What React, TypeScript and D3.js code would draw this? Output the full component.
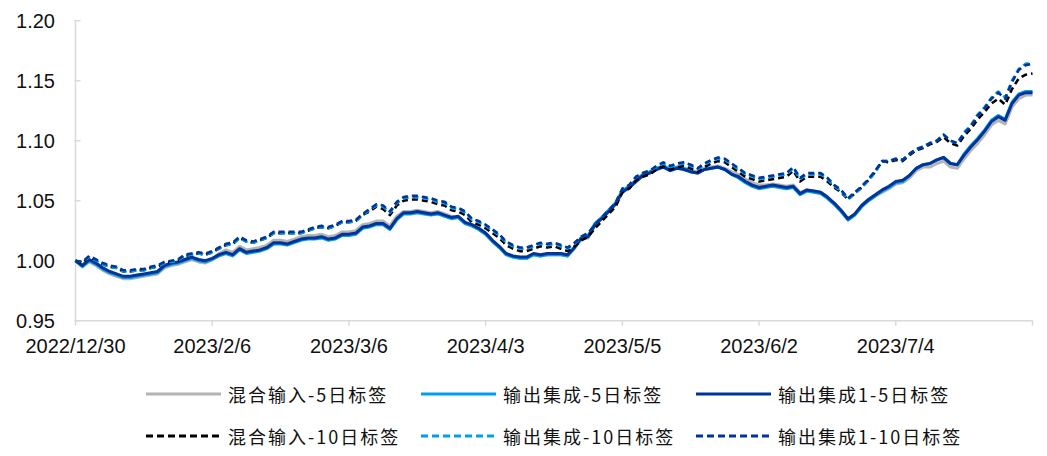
import React from "react";
import * as d3 from "d3";

const dateLabels = ["2022/12/30", "2023/2/6", "2023/3/6", "2023/4/3", "2023/5/5", "2023/6/2", "2023/7/4", ""];
const tickIndex = [0, 20, 40, 60, 80, 100, 120, 140];
const yTicks = [0.95, 1.0, 1.05, 1.1, 1.15, 1.2];

const mix5 = [
  1.000,0.995,0.999,0.996,0.992,0.989,0.987,0.985,0.985,0.986,
  0.987,0.988,0.989,0.994,0.996,0.997,0.999,1.001,0.999,0.998,
  1.001,1.006,1.009,1.007,1.012,1.009,1.010,1.011,1.013,1.017,
  1.017,1.016,1.018,1.020,1.021,1.021,1.022,1.020,1.021,1.024,
  1.024,1.025,1.030,1.031,1.033,1.033,1.029,1.037,1.041,1.041,
  1.042,1.041,1.040,1.041,1.039,1.037,1.036,1.031,1.029,1.026,
  1.022,1.016,1.011,1.005,1.003,1.002,1.002,1.005,1.004,1.005,
  1.005,1.005,1.004,1.010,1.018,1.019,1.030,1.036,1.042,1.048,
  1.058,1.062,1.067,1.072,1.074,1.077,1.079,1.076,1.078,1.077,
  1.075,1.074,1.077,1.078,1.079,1.077,1.074,1.072,1.068,1.065,
  1.063,1.063,1.064,1.063,1.062,1.063,1.057,1.059,1.058,1.057,
  1.053,1.047,1.041,1.034,1.038,1.045,1.050,1.054,1.057,1.060,
  1.064,1.065,1.069,1.075,1.078,1.078,1.081,1.083,1.078,1.077,
  1.085,1.092,1.098,1.105,1.113,1.117,1.114,1.128,1.135,1.138,
  1.138,
];

const out5 = [
  1.000,0.995,1.000,0.997,0.993,0.990,0.988,0.986,0.986,0.987,
  0.988,0.989,0.990,0.995,0.997,0.998,1.000,1.002,1.000,0.999,
  1.001,1.004,1.006,1.004,1.009,1.006,1.007,1.008,1.010,1.014,
  1.014,1.013,1.015,1.017,1.018,1.018,1.019,1.017,1.018,1.021,
  1.021,1.022,1.027,1.028,1.030,1.030,1.026,1.034,1.039,1.039,
  1.040,1.039,1.038,1.039,1.037,1.035,1.036,1.031,1.029,1.026,
  1.022,1.016,1.011,1.005,1.003,1.002,1.002,1.005,1.004,1.005,
  1.005,1.005,1.004,1.011,1.019,1.021,1.031,1.036,1.042,1.048,
  1.058,1.062,1.067,1.072,1.074,1.077,1.079,1.076,1.078,1.077,
  1.075,1.073,1.076,1.077,1.078,1.076,1.072,1.069,1.065,1.062,
  1.060,1.061,1.062,1.061,1.060,1.061,1.055,1.058,1.057,1.056,
  1.052,1.047,1.041,1.034,1.038,1.045,1.050,1.054,1.058,1.061,
  1.065,1.066,1.071,1.077,1.080,1.081,1.084,1.086,1.081,1.080,
  1.089,1.096,1.102,1.109,1.117,1.121,1.118,1.132,1.139,1.141,
  1.141,
];

const out1_5 = [
  1.000,0.996,1.001,0.998,0.994,0.991,0.989,0.987,0.987,0.988,
  0.989,0.990,0.991,0.996,0.998,0.999,1.001,1.003,1.001,1.000,
  1.002,1.005,1.007,1.005,1.010,1.007,1.008,1.009,1.011,1.015,
  1.015,1.014,1.016,1.018,1.019,1.019,1.020,1.018,1.019,1.022,
  1.022,1.023,1.028,1.029,1.031,1.031,1.027,1.035,1.040,1.040,
  1.041,1.040,1.039,1.040,1.038,1.036,1.037,1.032,1.030,1.027,
  1.023,1.017,1.012,1.006,1.004,1.003,1.003,1.006,1.005,1.006,
  1.006,1.006,1.005,1.011,1.019,1.020,1.030,1.035,1.041,1.047,
  1.057,1.061,1.066,1.071,1.073,1.076,1.078,1.075,1.077,1.076,
  1.074,1.073,1.076,1.077,1.078,1.076,1.072,1.070,1.066,1.063,
  1.061,1.062,1.063,1.062,1.061,1.062,1.056,1.059,1.058,1.057,
  1.053,1.048,1.042,1.035,1.039,1.046,1.051,1.055,1.059,1.062,
  1.066,1.067,1.071,1.077,1.080,1.081,1.084,1.086,1.081,1.080,
  1.088,1.095,1.101,1.108,1.116,1.120,1.117,1.131,1.138,1.140,
  1.140,
];

const mix10 = [
  1.000,0.998,1.003,1.000,0.997,0.995,0.994,0.991,0.991,0.992,
  0.992,0.994,0.995,0.998,0.999,1.000,1.004,1.005,1.006,1.005,
  1.007,1.010,1.013,1.014,1.019,1.016,1.015,1.017,1.019,1.023,
  1.023,1.023,1.023,1.023,1.025,1.027,1.028,1.027,1.029,1.032,
  1.032,1.033,1.038,1.041,1.045,1.043,1.038,1.046,1.050,1.051,
  1.051,1.050,1.049,1.047,1.046,1.042,1.041,1.038,1.032,1.030,
  1.027,1.023,1.019,1.013,1.010,1.008,1.008,1.010,1.012,1.011,
  1.012,1.010,1.008,1.012,1.017,1.020,1.027,1.033,1.039,1.045,
  1.057,1.060,1.067,1.070,1.072,1.076,1.079,1.076,1.078,1.079,
  1.077,1.074,1.078,1.081,1.083,1.082,1.078,1.074,1.070,1.068,
  1.066,1.067,1.068,1.069,1.070,1.075,1.066,1.070,1.070,1.070,
  1.066,1.061,1.057,1.051,1.056,1.061,1.067,1.074,1.083,1.082,
  1.084,1.083,1.088,1.092,1.094,1.097,1.099,1.103,1.098,1.096,
  1.104,1.110,1.118,1.124,1.131,1.135,1.130,1.143,1.152,1.155,
  1.156,
];

const out10 = [
  1.000,0.999,1.003,1.000,0.997,0.995,0.994,0.991,0.991,0.992,
  0.992,0.994,0.995,0.998,0.999,1.000,1.004,1.005,1.006,1.005,
  1.007,1.010,1.013,1.014,1.019,1.016,1.015,1.017,1.019,1.023,
  1.023,1.023,1.023,1.023,1.025,1.027,1.028,1.027,1.029,1.032,
  1.032,1.033,1.038,1.042,1.046,1.045,1.040,1.048,1.052,1.053,
  1.053,1.052,1.051,1.049,1.048,1.044,1.043,1.040,1.034,1.032,
  1.029,1.025,1.021,1.015,1.012,1.010,1.010,1.012,1.014,1.013,
  1.014,1.012,1.010,1.014,1.020,1.023,1.030,1.036,1.042,1.048,
  1.060,1.063,1.070,1.073,1.075,1.078,1.081,1.078,1.080,1.081,
  1.079,1.076,1.080,1.083,1.085,1.084,1.080,1.076,1.072,1.070,
  1.068,1.069,1.070,1.071,1.072,1.077,1.068,1.072,1.072,1.072,
  1.068,1.062,1.058,1.051,1.056,1.061,1.067,1.074,1.083,1.083,
  1.085,1.084,1.089,1.093,1.095,1.098,1.100,1.105,1.100,1.098,
  1.107,1.113,1.122,1.128,1.136,1.141,1.136,1.150,1.160,1.164,
  1.165,
];

const out1_10 = [
  1.000,0.999,1.004,1.001,0.998,0.996,0.995,0.992,0.992,0.993,
  0.993,0.995,0.996,0.999,1.000,1.001,1.005,1.006,1.007,1.006,
  1.008,1.011,1.014,1.015,1.020,1.017,1.016,1.018,1.020,1.024,
  1.024,1.024,1.024,1.024,1.026,1.028,1.029,1.028,1.030,1.033,
  1.033,1.034,1.039,1.043,1.047,1.046,1.041,1.049,1.053,1.054,
  1.054,1.053,1.052,1.050,1.049,1.045,1.044,1.041,1.035,1.033,
  1.030,1.026,1.022,1.016,1.013,1.011,1.011,1.013,1.015,1.014,
  1.015,1.013,1.011,1.015,1.020,1.023,1.030,1.036,1.042,1.048,
  1.060,1.063,1.070,1.073,1.075,1.079,1.082,1.079,1.081,1.082,
  1.080,1.077,1.081,1.084,1.086,1.085,1.081,1.077,1.073,1.071,
  1.069,1.070,1.071,1.072,1.073,1.078,1.069,1.073,1.073,1.073,
  1.069,1.063,1.059,1.052,1.057,1.062,1.068,1.075,1.083,1.083,
  1.085,1.084,1.089,1.093,1.095,1.098,1.100,1.105,1.100,1.098,
  1.106,1.112,1.121,1.127,1.135,1.140,1.135,1.149,1.159,1.163,
  1.164,
];

const seriesNames = ["混合输入-5日标签", "输出集成-5日标签", "输出集成1-5日标签", "混合输入-10日标签", "输出集成-10日标签", "输出集成1-10日标签"];
const seriesData = [mix5, out5, out1_5, mix10, out10, out1_10];
const seriesColors = ["#b4b4b4", "#00a0e9", "#00349a", "#000000", "#00a0e9", "#00349a"];
const seriesDashed = [false, false, false, true, true, true];

const W = 1047;
const H = 456;
const axisColor = "#d9d9d9";
const fontLatin = "'Liberation Sans', Arial, Helvetica, sans-serif";
const fontCJK = "'Noto Sans CJK SC', 'Liberation Sans', sans-serif";

export default function App() {
  const x = d3.scaleLinear().domain([0, 140]).range([75.5, 1032.5]);
  const y = d3.scaleLinear().domain([0.95, 1.2]).range([320.7, 20.7]);
  const line = d3
    .line<number>()
    .x((_, i) => x(i))
    .y((d) => y(d))
    .curve(d3.curveLinear);

  const legendCols = [146, 421, 696];
  const legendRows = [394, 436];

  return (
    <svg
      width={W}
      height={H}
      style={{ position: "fixed", left: 0, top: 0, background: "#fff" }}
    >
      <rect x={0} y={0} width={W} height={H} fill="#fff" />
      <line x1={x(0)} x2={x(0)} y1={y(1.2)} y2={y(0.95)} stroke={axisColor} strokeWidth={1.5} />
      <line x1={x(0)} x2={x(140)} y1={y(0.95)} y2={y(0.95)} stroke={axisColor} strokeWidth={1.5} />
      {yTicks.map((t) => (
        <g key={t}>
          <line x1={x(0) - 1} x2={x(0) + 5} y1={y(t)} y2={y(t)} stroke={axisColor} strokeWidth={1.5} />
          <text
            x={55}
            y={y(t)}
            textAnchor="end"
            dominantBaseline="central"
            fontFamily={fontLatin}
            fontSize={20}
            fill="#111"
          >
            {t.toFixed(2)}
          </text>
        </g>
      ))}
      {tickIndex.map((ti, k) => (
        <g key={ti}>
          <line x1={x(ti)} x2={x(ti)} y1={y(0.95)} y2={y(0.95) + 5} stroke={axisColor} strokeWidth={1.5} />
          <text
            x={x(ti)}
            y={353}
            textAnchor="middle"
            fontFamily={fontLatin}
            fontSize={20}
            fill="#111"
          >
            {dateLabels[k]}
          </text>
        </g>
      ))}
      {seriesData.map((d, k) => (
        <path
          key={seriesNames[k]}
          d={line(d) || ""}
          fill="none"
          stroke={seriesColors[k]}
          strokeWidth={seriesDashed[k] ? 2.6 : 3}
          strokeDasharray={seriesDashed[k] ? "6 4" : undefined}
          strokeLinejoin="round"
        />
      ))}
      {seriesNames.map((name, k) => {
        const col = k % 3;
        const row = Math.floor(k / 3);
        const lx = legendCols[col];
        const ly = legendRows[row];
        return (
          <g key={"lg" + name}>
            <line
              x1={lx}
              x2={lx + 75}
              y1={ly}
              y2={ly}
              stroke={seriesColors[k]}
              strokeWidth={3}
              strokeDasharray={seriesDashed[k] ? "7 4" : undefined}
            />
            <text
              x={lx + 82}
              y={ly}
              dominantBaseline="central"
              fontFamily={fontCJK}
              fontSize={18}
              letterSpacing={2}
              fill="#111"
            >
              {name}
            </text>
          </g>
        );
      })}
    </svg>
  );
}
